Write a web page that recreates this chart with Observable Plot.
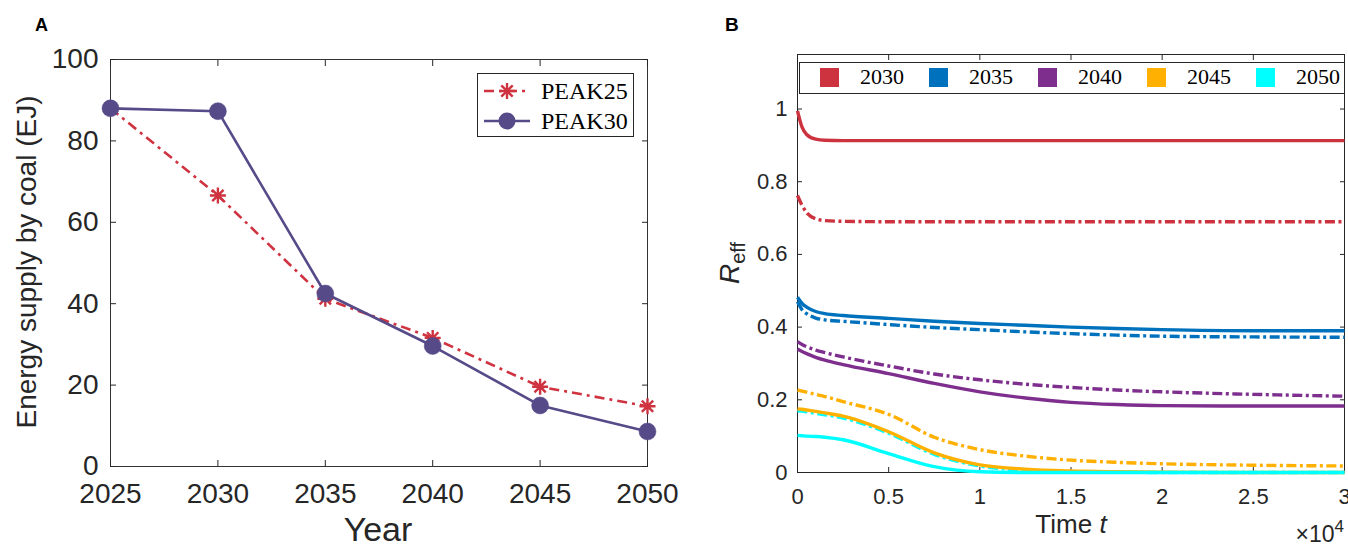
<!DOCTYPE html>
<html>
<head>
<meta charset="utf-8">
<script src="https://cdn.jsdelivr.net/npm/d3@7"></script>
<script src="https://cdn.jsdelivr.net/npm/@observablehq/plot@0.6"></script>
<style>
  body { margin: 0; background: #fff; }
  #wrap { position: relative; width: 1348px; height: 546px; overflow: hidden; background: #fff;
          font-family: "Liberation Sans", Arial, sans-serif; color: #262626; }
  .abs { position: absolute; white-space: nowrap; line-height: 1; }
  .tag { font-weight: bold; color: #000; }
  .legA { border: 1px solid #262626; background: #fff; box-sizing: border-box; }
  .legA .row { position: absolute; left: 0; height: 30px; display: flex; align-items: center; }
  .serif { font-family: "Liberation Serif", "Times New Roman", serif; }
  .legB { border: 1px solid #262626; background: #fff; box-sizing: border-box; }
  .legB .sw { position: absolute; width: 19px; height: 19px; }
  .legB .lb { position: absolute; font-size: 22px; }
</style>
</head>
<body>
<div id="wrap"></div>
<script>
// ---------- Panel A data ----------
const yearsA = [2025, 2030, 2035, 2040, 2045, 2050];
const peak25 = [88, 66.6, 41.2, 31.6, 19.6, 14.8];
const peak30 = [88, 87.3, 42.5, 29.6, 15, 8.6];
const yTicksA = [0, 20, 40, 60, 80, 100];
const seriesNamesA = ["PEAK25", "PEAK30"];

// ---------- Panel B data ----------
const tB = [0, 250, 500, 1000, 1500, 2500, 5000, 7500, 10000, 12500, 15000, 17500, 20000, 25000, 30000];
const s2030 = [0.995, 0.95, 0.93, 0.917, 0.914, 0.913, 0.913, 0.913, 0.913, 0.913, 0.913, 0.913, 0.913, 0.913, 0.913];
const d2030 = [0.762, 0.735, 0.715, 0.698, 0.693, 0.691, 0.69, 0.69, 0.69, 0.69, 0.69, 0.69, 0.69, 0.69, 0.69];
const s2035 = [0.482, 0.465, 0.455, 0.443, 0.437, 0.432, 0.424, 0.416, 0.41, 0.405, 0.4, 0.396, 0.393, 0.39, 0.39];
const d2035 = [0.47, 0.448, 0.437, 0.425, 0.42, 0.416, 0.407, 0.399, 0.393, 0.387, 0.382, 0.378, 0.375, 0.373, 0.372];
const s2040 = [0.34, 0.333, 0.327, 0.317, 0.309, 0.297, 0.272, 0.245, 0.222, 0.205, 0.193, 0.187, 0.184, 0.183, 0.183];
const d2040 = [0.36, 0.352, 0.346, 0.337, 0.33, 0.318, 0.293, 0.271, 0.255, 0.243, 0.234, 0.227, 0.222, 0.215, 0.21];
const s2045 = [0.175, 0.174, 0.172, 0.168, 0.164, 0.155, 0.112, 0.054, 0.021, 0.009, 0.004, 0.002, 0.001, 0, 0];
const d2045 = [0.227, 0.224, 0.221, 0.215, 0.209, 0.195, 0.16, 0.097, 0.063, 0.045, 0.034, 0.028, 0.024, 0.02, 0.018];
const s2050 = [0.102, 0.101, 0.1, 0.099, 0.097, 0.09, 0.052, 0.016, 0.002, 0, 0, 0, 0, 0, 0];
const d2050 = [0.17, 0.169, 0.167, 0.163, 0.159, 0.15, 0.108, 0.05, 0.018, 0.006, 0.002, 0.001, 0, 0, 0];
const yearsB = ["2030", "2035", "2040", "2045", "2050"];
const colorsB = ["#cc333f", "#0072bd", "#7e2f8e", "#ffb000", "#00ffff"];
const xTicksB = [0, 5000, 10000, 15000, 20000, 25000, 30000];
const yTicksB = [0, 0.2, 0.4, 0.6, 0.8, 1];

const redA = "#cf3340";
const purpleA = "#574a88";
const axisColor = "#262626";

const wrap = document.getElementById("wrap");
function add(html, cls, style) {
  const d = document.createElement("div");
  d.className = "abs " + (cls || "");
  d.innerHTML = html;
  Object.assign(d.style, style);
  wrap.appendChild(d);
  return d;
}

// ---------- Panel A ----------
const rowsA = yearsA.flatMap((yr, i) => [
  {year: yr, v: peak25[i], s: seriesNamesA[0]},
  {year: yr, v: peak30[i], s: seriesNamesA[1]}
]);
const r25 = rowsA.filter(d => d.s === "PEAK25");
const r30 = rowsA.filter(d => d.s === "PEAK30");

const asterisk8 = {
  draw(ctx, size) {
    const r = Math.sqrt(size / Math.PI);
    for (let k = 0; k < 4; k++) {
      const a = k * Math.PI / 4;
      const dx = r * Math.cos(a), dy = r * Math.sin(a);
      ctx.moveTo(-dx, -dy);
      ctx.lineTo(dx, dy);
    }
  }
};

const plotA = Plot.plot({
  width: 700, height: 546,
  marginLeft: 110, marginRight: 53, marginTop: 59, marginBottom: 80,
  style: {fontFamily: "'Liberation Sans', Arial, sans-serif", background: "transparent", color: axisColor},
  x: {domain: [2025, 2050]},
  y: {domain: [0, 100]},
  marks: [
    Plot.frame({stroke: "#333", strokeWidth: 1}),
    Plot.axisX({ticks: yearsA, tickSize: -6, tickPadding: 23, tickFormat: d => String(d), fontSize: 28, label: null, color: axisColor}),
    Plot.axisX({anchor: "top", ticks: yearsA, tickSize: -6, tickFormat: () => "", label: null, color: axisColor}),
    Plot.axisY({ticks: yTicksA, tickSize: -6, tickPadding: 18, fontSize: 28, label: null, color: axisColor}),
    Plot.axisY({anchor: "right", ticks: yTicksA, tickSize: -6, tickFormat: () => "", label: null, color: axisColor}),
    Plot.line(r25, {x: "year", y: "v", stroke: redA, strokeWidth: 2.6, strokeDasharray: "10,5,3,5", strokeLinecap: "butt"}),
    Plot.dot(r25, {x: "year", y: "v", symbol: asterisk8, r: 8, stroke: redA, fill: "none", strokeWidth: 2.4}),
    Plot.line(r30, {x: "year", y: "v", stroke: purpleA, strokeWidth: 2.6}),
    Plot.dot(r30, {x: "year", y: "v", r: 8.5, fill: purpleA, stroke: purpleA, strokeWidth: 0.5})
  ]
});
plotA.style.position = "absolute";
plotA.style.left = "0px"; plotA.style.top = "0px";
wrap.appendChild(plotA);

// ---------- Panel B ----------
const solidB = [s2030, s2035, s2040, s2045, s2050];
const dashB = [d2030, d2035, d2040, d2045, d2050];
const rowsB = [];
yearsB.forEach((yr, k) => {
  tB.forEach((t, i) => {
    rowsB.push({t, v: dashB[k][i], year: yr, kind: "dash"});
    rowsB.push({t, v: solidB[k][i], year: yr, kind: "solid"});
  });
});
const lineMarks = [];
["dash", "solid"].forEach(kind => {
  yearsB.forEach((yr, k) => {
    lineMarks.push(Plot.line(rowsB.filter(d => d.year === yr && d.kind === kind), {
      x: "t", y: "v", stroke: colorsB[k], strokeWidth: 3.4, curve: "monotone-x",
      strokeLinecap: "butt",
      strokeDasharray: kind === "dash" ? "10,3.5,3,3.5" : null
    }));
  });
});

const plotB = Plot.plot({
  width: 648, height: 546,
  marginLeft: 97, marginRight: 4, marginTop: 54, marginBottom: 74,
  style: {fontFamily: "'Liberation Sans', Arial, sans-serif", background: "transparent", color: axisColor},
  x: {domain: [0, 30000]},
  y: {domain: [0, 1.15]},
  marks: [
    Plot.frame({stroke: axisColor, strokeWidth: 1}),
    Plot.axisX({ticks: xTicksB, tickSize: -5, tickPadding: 20.5, tickFormat: d => String(d / 1e4), fontSize: 22, label: null, color: axisColor}),
    Plot.axisX({anchor: "top", ticks: xTicksB, tickSize: -5, tickFormat: () => "", label: null, color: axisColor}),
    Plot.axisY({ticks: yTicksB, tickSize: -5, tickPadding: 15, tickFormat: d => String(d), fontSize: 22, label: null, color: axisColor}),
    Plot.axisY({anchor: "right", ticks: yTicksB, tickSize: -5, tickFormat: () => "", label: null, color: axisColor}),
    ...lineMarks
  ]
});
plotB.style.position = "absolute";
plotB.style.left = "700px"; plotB.style.top = "0px";
wrap.appendChild(plotB);

// ---------- Labels ----------
add("A", "tag", {left: "35px", top: "16px", fontSize: "18px"});
add("B", "tag", {left: "725px", top: "15px", fontSize: "19px"});
add("Year", "", {left: "378px", top: "512px", fontSize: "34px", transform: "translateX(-50%)"});
add("Energy supply by coal (EJ)", "", {left: "27px", top: "262px", fontSize: "28px", transform: "translate(-50%,-50%) rotate(-90deg)"});
add("Time <i>t</i>", "", {left: "1071px", top: "511px", fontSize: "26px", transform: "translateX(-50%)"});
add("×10<sup style='font-size:17px;vertical-align:10px'>4</sup>", "", {right: "4px", top: "518px", fontSize: "23px"});
add("<i style='font-size:28px'>R</i><span style='font-size:20px;position:relative;top:6px'>eff</span>", "", {left: "730px", top: "263px", transform: "translate(-50%,-50%) rotate(-90deg)"});

// ---------- Legend A ----------
const legA = add("", "legA", {left: "477px", top: "73px", width: "157px", height: "64px"});
const glyphs = [
  `<svg width="50" height="20"><line x1="2" y1="10" x2="48" y2="10" stroke="${redA}" stroke-width="2.6" stroke-dasharray="10,5,3,5"/>` +
  `<g stroke="${redA}" stroke-width="2.4"><line x1="17" y1="10" x2="33" y2="10"/><line x1="25" y1="2" x2="25" y2="18"/><line x1="19.3" y1="4.3" x2="30.7" y2="15.7"/><line x1="19.3" y1="15.7" x2="30.7" y2="4.3"/></g></svg>`,
  `<svg width="50" height="20"><line x1="2" y1="10" x2="48" y2="10" stroke="${purpleA}" stroke-width="2.6"/><circle cx="25" cy="10" r="8.5" fill="${purpleA}"/></svg>`
];
seriesNamesA.forEach((name, i) => {
  const row = document.createElement("div");
  row.className = "row";
  row.style.top = (2 + i * 30) + "px";
  row.innerHTML = glyphs[i] + `<span class="serif" style="font-size:24px;margin-left:9px;color:#000">${name}</span>`;
  row.style.left = "4px";
  legA.appendChild(row);
});

// ---------- Legend B ----------
const legB = add("", "legB", {left: "799px", top: "62px", width: "546px", height: "32px"});
yearsB.forEach((yr, k) => {
  const sw = document.createElement("div");
  sw.className = "sw";
  sw.style.left = (20 + 109 * k) + "px";
  sw.style.top = "5px";
  sw.style.background = colorsB[k];
  legB.appendChild(sw);
  const lb = document.createElement("div");
  lb.className = "lb serif";
  lb.style.left = (60 + 109 * k) + "px";
  lb.style.top = "3px";
  lb.style.color = "#000";
  lb.textContent = yr;
  legB.appendChild(lb);
});
</script>
</body>
</html>
